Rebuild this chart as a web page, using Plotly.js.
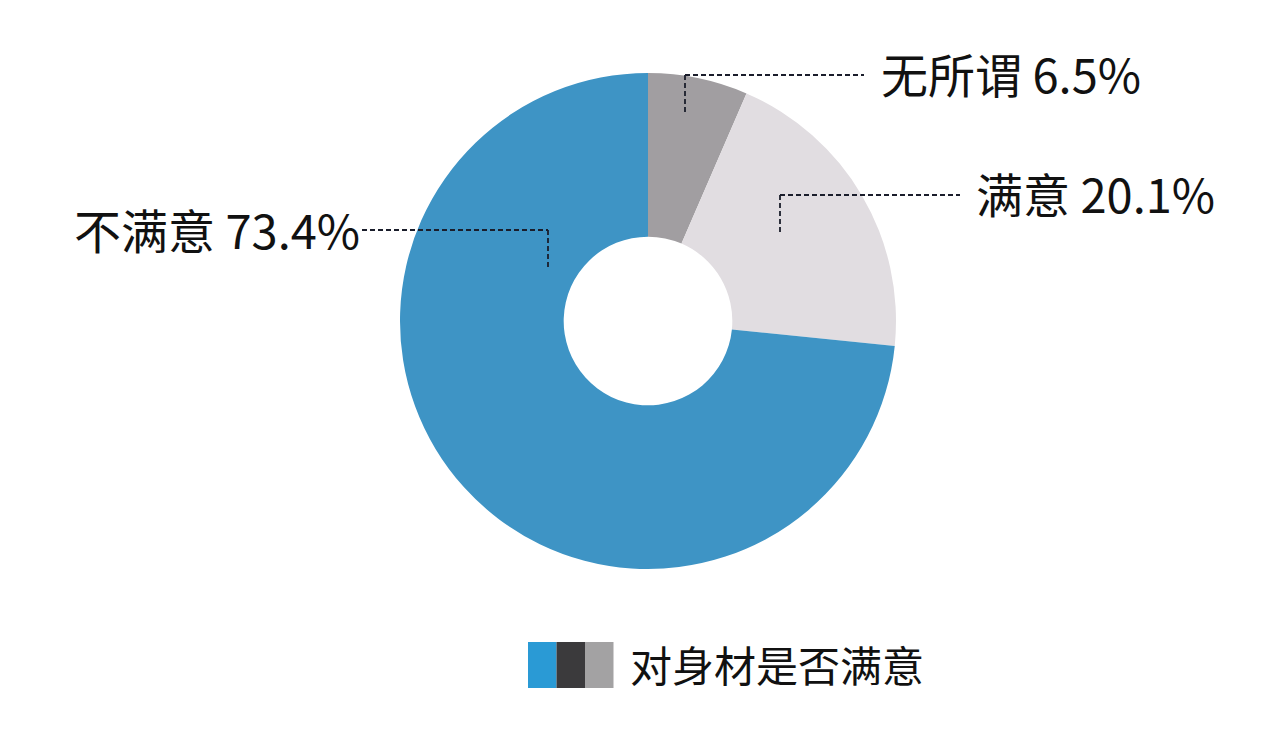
<!DOCTYPE html>
<html>
<head>
<meta charset="utf-8">
<script src="https://cdn.plot.ly/plotly-3.0.1.min.js"></script>
<style>
  html, body { margin: 0; padding: 0; background: #fff; }
  #chart { width: 1280px; height: 739px; }
</style>
</head>
<body>
<div id="chart"></div>
<script>
// slices go clockwise from 12 o'clock
const categories = ['无所谓', '满意', '不满意']
const shares = [6.5, 20.1, 73.4]
const sliceColors = ['#a19ea1', '#e1dde1', '#3e94c5']

const legendTitle = '对身材是否满意'
const legendSwatches = ['#2a9ad5', '#3b3a3c', '#a3a2a3']

const W = 1280, H = 739
const fx = p => p / W
const fy = p => 1 - p / H

// hand placed label spots: [text x, text y, line start x, line end x, elbow x, elbow bottom y, anchor]
const labelSpots = [
  [879, 73, 685, 864, 685, 115, 'left'],
  [974, 193, 780, 960, 780, 235, 'left'],
  [362, 228, 362, 548, 548, 270, 'right']
]

const font = '"Noto Sans CJK SC", "Noto Sans", sans-serif'

const data = [{
  type: 'pie',
  labels: categories,
  values: shares,
  marker: { colors: sliceColors, line: { width: 0 } },
  hole: 0.34,
  sort: false,
  direction: 'clockwise',
  rotation: 0,
  textinfo: 'none',
  hoverinfo: 'label+percent',
  domain: { x: [fx(400), fx(896)], y: [fy(569), fy(73)] }
}]

const shapes = []
const annotations = []
labelSpots.forEach(function (s, i) {
  const line = { color: '#1a1d2b', width: 1.8, dash: '5px,3px' }
  shapes.push({ type: 'line', xref: 'paper', yref: 'paper', x0: fx(s[2]), x1: fx(s[3]), y0: fy(s[1] + 2), y1: fy(s[1] + 2), line: line })
  shapes.push({ type: 'line', xref: 'paper', yref: 'paper', x0: fx(s[4]), x1: fx(s[4]), y0: fy(s[1] + 2), y1: fy(s[5]), line: line })
  annotations.push({
    xref: 'paper', yref: 'paper', x: fx(s[0]), y: fy(s[1]),
    xanchor: s[6], yanchor: 'middle', showarrow: false,
    text: categories[i] + ' ' + shares[i].toFixed(1) + '%',
    font: { family: font, size: 47, color: '#111' }
  })
})

// custom legend: three swatches and one caption
legendSwatches.forEach(function (c, i) {
  const x0 = 528 + i * 28.5
  shapes.push({ type: 'rect', xref: 'paper', yref: 'paper', x0: fx(x0), x1: fx(x0 + 28.5), y0: fy(688), y1: fy(642), fillcolor: c, line: { width: 0 } })
})
annotations.push({
  xref: 'paper', yref: 'paper', x: fx(628), y: fy(663),
  xanchor: 'left', yanchor: 'middle', showarrow: false,
  text: legendTitle,
  font: { family: font, size: 42, color: '#111' }
})

const layout = {
  width: W, height: H,
  margin: { l: 0, r: 0, t: 0, b: 0 },
  paper_bgcolor: '#fff',
  showlegend: false,
  shapes: shapes,
  annotations: annotations
}

Plotly.newPlot('chart', data, layout, { displayModeBar: false, staticPlot: true })
</script>
</body>
</html>
